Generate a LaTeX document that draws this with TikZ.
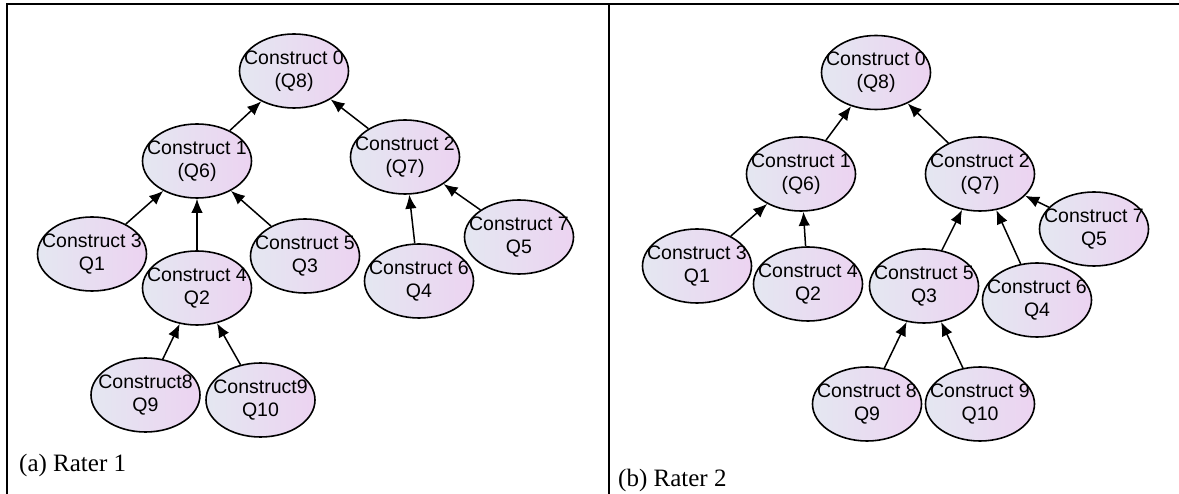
\documentclass[tikz,border=0pt]{standalone}
\usepackage{fontspec}
\setmainfont{Liberation Serif}
\newfontfamily\nodefont{Liberation Sans}
\usetikzlibrary{shapes.geometric,arrows.meta}
\definecolor{fillA}{RGB}{228,231,241}
\definecolor{fillB}{RGB}{236,211,241}
\newcommand{\twolines}[2]{\makebox[0pt]{#1}\\\makebox[0pt]{#2}}
\begin{document}
\begin{tikzpicture}[x=1pt,y=-1pt,
  cnode/.style={ellipse, draw, line width=1.6pt, minimum width=109pt, minimum height=74pt,
    inner sep=0pt, left color=fillA, right color=fillB,
    font=\nodefont\fontsize{19.5}{23}\selectfont, align=center},
  arr/.style={line width=1.5pt, -{Latex[length=14pt,width=11.5pt]}},
  frame/.style={line width=2pt},
  caption/.style={anchor=west, font=\fontsize{25}{29}\selectfont, inner sep=0pt}]
\useasboundingbox (0,0) rectangle (1179,494);
% frame
\coordinate (tl) at (6.5,4);
\coordinate (tr) at (1179,4);
\coordinate (bl) at (6.5,494);
\coordinate (dt) at (609,4);
\coordinate (db) at (609,494);
\draw[frame] (bl) -- (tl) -- (tr);
\draw[frame] (dt) -- (db);
% left panel
\node[cnode] (a0) at (294,71) {\twolines{Construct 0}{(Q8)}};
\node[cnode] (a1) at (197,161) {\twolines{Construct 1}{(Q6)}};
\node[cnode] (a2) at (405,157) {\twolines{Construct 2}{(Q7)}};
\node[cnode] (a3) at (92,254) {\twolines{Construct 3}{Q1}};
\node[cnode] (a4) at (197,288) {\twolines{Construct 4}{Q2}};
\node[cnode] (a5) at (305,256) {\twolines{Construct 5}{Q3}};
\node[cnode] (a6) at (419,281) {\twolines{Construct 6}{Q4}};
\node[cnode] (a7) at (519,237) {\twolines{Construct 7}{Q5}};
\node[cnode] (a8) at (145.5,395) {\twolines{Construct8}{Q9}};
\node[cnode] (a9) at (260.5,400) {\twolines{Construct9}{Q10}};
\draw[arr] (a1) -- (a0);
\draw[arr] (a2) -- (a0);
\draw[arr] (a3) -- (a1);
\draw[arr] (a4) -- (a1);
\draw[arr] (a5) -- (a1);
\draw[arr] (a6) -- (a2);
\draw[arr] (a7) -- (a2);
\draw[arr] (a8) -- (a4);
\draw[arr] (a9) -- (a4);
\node[caption] (capa) at (19,465) {(a) Rater 1};
% right panel
\node[cnode] (b0) at (876,72.5) {\twolines{Construct 0}{(Q8)}};
\node[cnode] (b1) at (801,174) {\twolines{Construct 1}{(Q6)}};
\node[cnode] (b2) at (980,174) {\twolines{Construct 2}{(Q7)}};
\node[cnode] (b3) at (697,266) {\twolines{Construct 3}{Q1}};
\node[cnode] (b4) at (808,284) {\twolines{Construct 4}{Q2}};
\node[cnode] (b5) at (924,286) {\twolines{Construct 5}{Q3}};
\node[cnode] (b6) at (1037,300) {\twolines{Construct 6}{Q4}};
\node[cnode] (b7) at (1094,229) {\twolines{Construct 7}{Q5}};
\node[cnode] (b8) at (867,404) {\twolines{Construct 8}{Q9}};
\node[cnode] (b9) at (980,404) {\twolines{Construct 9}{Q10}};
\draw[arr] (b1) -- (b0);
\draw[arr] (b2) -- (b0);
\draw[arr] (b3) -- (b1);
\draw[arr] (b4) -- (b1);
\draw[arr] (b5) -- (b2);
\draw[arr] (b6) -- (b2);
\draw[arr] (b7) -- (b2);
\draw[arr] (b8) -- (b5);
\draw[arr] (b9) -- (b5);
\node[caption] (capb) at (618,480) {(b) Rater 2};
\end{tikzpicture}
\end{document}
